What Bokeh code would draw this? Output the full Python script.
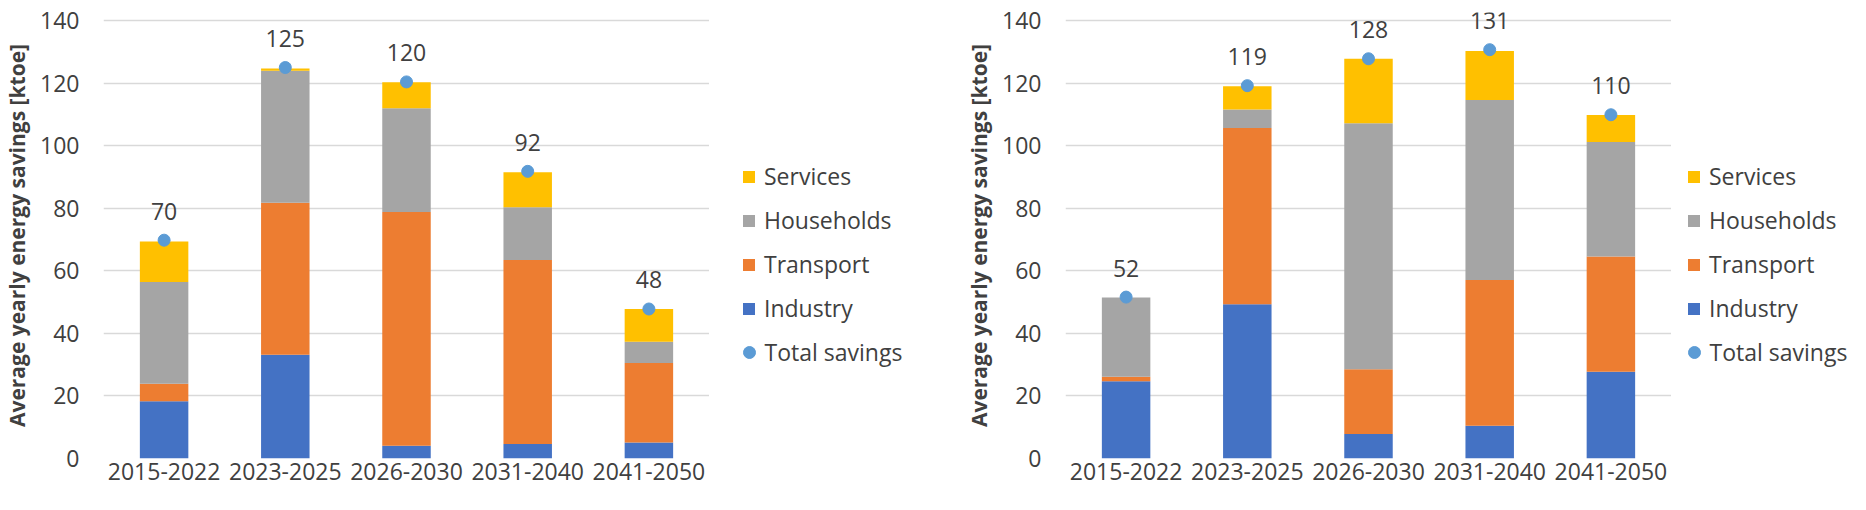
"""
Average yearly energy savings by sector, two scenarios side by side (stacked bars + totals).
"""

from bokeh.core.properties import value
from bokeh.embed import file_html
from bokeh.layouts import row
from bokeh.models import (ColumnDataSource, FactorRange, FixedTicker, LabelSet,
                          Legend, LegendItem, Range1d)
from bokeh.plotting import figure
from bokeh.resources import INLINE

periods = ["2015-2022", "2023-2025", "2026-2030", "2031-2040", "2041-2050"]
sectors = ["Industry", "Transport", "Households", "Services"]
legend_order = ["Services", "Households", "Transport", "Industry"]
y_ticks = [0, 20, 40, 60, 80, 100, 120, 140]

# left chart (ktoe per sector)
left_industry = [18.3, 33.2, 4.1, 4.6, 5.1]
left_transport = [5.6, 48.6, 74.7, 58.9, 25.4]
left_households = [32.5, 42.2, 33.2, 16.8, 6.8]
left_services = [13.0, 0.7, 8.3, 11.2, 10.5]
left_total = [69.8, 125.0, 120.4, 91.8, 47.8]

# right chart
right_industry = [24.7, 49.3, 7.8, 10.5, 27.7]
right_transport = [1.4, 56.4, 20.7, 46.6, 36.9]
right_households = [25.4, 5.9, 78.7, 57.5, 36.6]
right_services = [0.0, 7.4, 20.6, 15.7, 8.6]
right_total = [51.6, 119.2, 127.8, 130.7, 109.9]

COLORS = {"Industry": "#4472C4", "Transport": "#ED7D31",
          "Households": "#A5A5A5", "Services": "#FFC000"}
DOT = "#5B9BD5"
TEXT = "#404040"
FONT = "Open Sans"
HEIGHT = 494


def make_chart(industry, transport, households, services, totals):
    src = ColumnDataSource(dict(
        period=periods, Industry=industry, Transport=transport,
        Households=households, Services=services, total=totals,
        label=[f"{t:.0f}" for t in totals],
    ))

    p = figure(x_range=FactorRange(*periods), y_range=Range1d(0, 142.59),
               width=709, height=HEIGHT, output_backend="svg",
               toolbar_location=None, min_border_left=94,
               min_border_right=0, min_border_top=12, min_border_bottom=36)
    p.x_range.range_padding = 0
    p.outline_line_color = None

    p.vbar_stack(sectors, x="period", width=0.4, source=src,
                 color=[COLORS[s] for s in sectors], line_color=None)
    p.scatter("period", "total", size=12, color=DOT, source=src)

    labels = LabelSet(x="period", y="total", text="label", source=src,
                      y_offset=29, text_align="center", text_baseline="middle",
                      text_font=value(FONT), text_font_size="23px",
                      text_color=TEXT)
    p.add_layout(labels)

    # axes / grid, Excel look
    p.xgrid.grid_line_color = None
    p.ygrid.grid_line_color = "#D9D9D9"
    p.ygrid.grid_line_width = 1.5
    p.yaxis.ticker = FixedTicker(ticks=y_ticks)
    for ax in (p.xaxis[0], p.yaxis[0]):
        ax.axis_line_color = None
        ax.major_tick_line_color = None
        ax.minor_tick_line_color = None
        ax.major_tick_in = 0
        ax.major_tick_out = 0
        ax.minor_tick_in = 0
        ax.minor_tick_out = 0
        ax.major_label_text_font = FONT
        ax.major_label_text_font_size = "23px"
        ax.major_label_text_color = TEXT
    p.xaxis.major_label_standoff = 4
    p.xaxis.axis_label_standoff = 0
    p.yaxis.major_label_standoff = 24
    p.yaxis.axis_label = "Average yearly energy savings [ktoe]"
    p.yaxis.axis_label_text_font = FONT
    p.yaxis.axis_label_text_font_size = "21px"
    p.yaxis.axis_label_text_font_style = "bold"
    p.yaxis.axis_label_text_color = TEXT
    p.yaxis.axis_label_standoff = 6
    return p, src


def make_legend(src, width, x0):
    # separate frame for the Excel-style legend; the proxy renderers are hidden,
    # only their legend entries are drawn
    p = figure(width=width, height=HEIGHT, output_backend="svg",
               toolbar_location=None, x_axis_location=None,
               y_axis_location=None, x_range=FactorRange(*periods),
               y_range=Range1d(-2, -1), min_border=0)
    p.outline_line_color = None
    p.grid.visible = False

    common = dict(label_text_font=FONT, label_text_font_size="23px",
                  label_text_color=TEXT, border_line_color=None,
                  background_fill_alpha=0, padding=0, margin=0,
                  label_height=32)

    items = []
    for s in legend_order:
        r = p.vbar(x="period", top=s, width=0.4, source=src,
                   color=COLORS[s], line_color=None, visible=False)
        items.append(LegendItem(label=s, renderers=[r]))
    p.add_layout(Legend(items=items, location=(x0, 134), glyph_width=15,
                        glyph_height=15, label_standoff=8, spacing=12,
                        **common))

    dot = p.scatter("period", "total", size=12, color=DOT, source=src,
                    visible=False)
    p.add_layout(Legend(items=[LegendItem(label="Total savings", renderers=[dot])],
                        location=(x0 - 7.5, 90), glyph_width=30,
                        glyph_height=30, label_standoff=1, **common))
    return p


left, left_src = make_chart(left_industry, left_transport, left_households,
                            left_services, left_total)
right, right_src = make_chart(right_industry, right_transport, right_households,
                              right_services, right_total)

layout = row(left, make_legend(left_src, 253, 32),
             right, make_legend(right_src, 179, 15))
open("out.html", "w").write(file_html(layout, INLINE))
